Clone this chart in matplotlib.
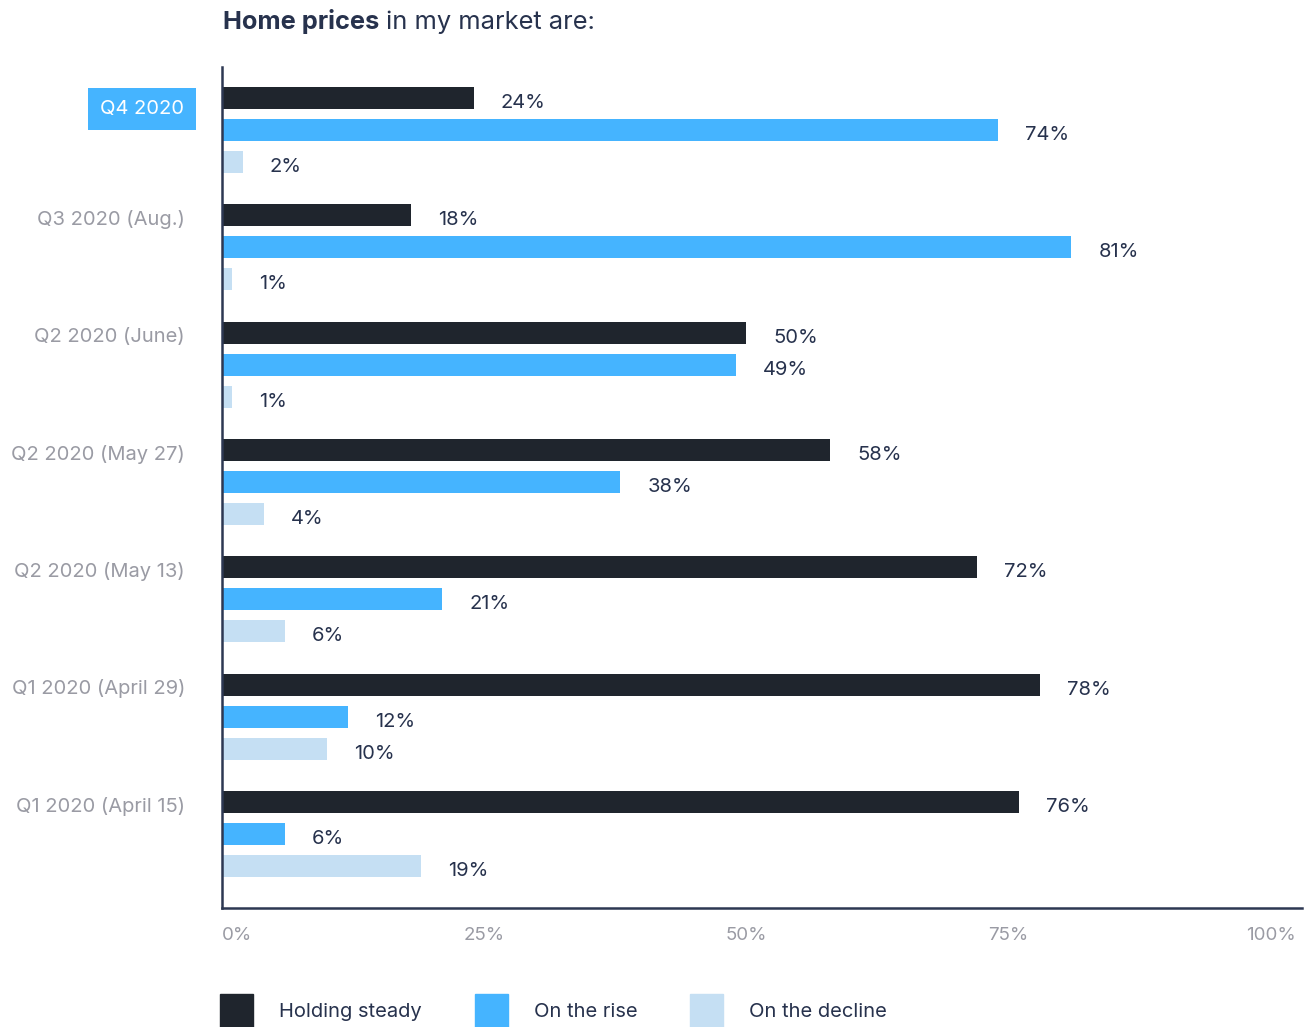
import numpy as np
import matplotlib
matplotlib.use('Agg')
import matplotlib.pyplot as plt
from matplotlib.patches import Patch

# survey periods, newest first
periods = ['Q4 2020', 'Q3 2020 (Aug.)', 'Q2 2020 (June)', 'Q2 2020 (May 27)',
           'Q2 2020 (May 13)', 'Q1 2020 (April 29)', 'Q1 2020 (April 15)']
holding = [24, 18, 50, 58, 72, 78, 76]
rise = [74, 81, 49, 38, 21, 12, 6]
decline = [2, 1, 1, 4, 6, 10, 19]
series_names = ['Holding steady', 'On the rise', 'On the decline']
x_ticks = [0, 25, 50, 75, 100]

DARK = '#1f252d'
BLUE = '#45b4ff'
LIGHT = '#c5dff3'
NAVY = '#27324d'
GREY = '#9a9ba4'

plt.rcParams['font.family'] = ['Inter', 'DejaVu Sans']

W, H = 1306, 1027
fig = plt.figure(figsize=(W / 100, H / 100), dpi=100)
ax = fig.add_axes([222 / W, 1 - 908 / H, 1080 / W, 841 / H])

group_gap = 3.667
base = np.arange(len(periods)) * group_gap
colors = [DARK, BLUE, LIGHT]

for k, vals in enumerate([holding, rise, decline]):
    ypos = base + k
    ax.barh(ypos, vals, height=0.69, color=colors[k], label=series_names[k])
    for y, v in zip(ypos, vals):
        ax.annotate(f'{v}%', xy=(v, y), xytext=(27, -5), textcoords='offset pixels',
                    ha='left', va='center', fontsize=14.5, color=NAVY,
                    annotation_clip=False)

# period labels; the latest one gets a highlight box
for i, (label, y) in enumerate(zip(periods, base)):
    if i == 0:
        ax.annotate(label, xy=(0, y), xytext=(-38, -11), textcoords='offset pixels',
                    ha='right', va='center', fontsize=14.5, color='white',
                    bbox=dict(boxstyle='square,pad=0.58', fc=BLUE, ec='none'),
                    annotation_clip=False)
    else:
        ax.annotate(label, xy=(0, y), xytext=(-37, -4), textcoords='offset pixels',
                    ha='right', va='center', fontsize=14.5, color=GREY,
                    annotation_clip=False)

ax.set_xlim(0, 103)
ax.set_ylim(base[-1] + 2 + 1.31, -0.969)
ax.set_yticks([])
ax.set_xticks(x_ticks)
ax.set_xticklabels([f'{t}%' for t in x_ticks])
ax.tick_params(axis='x', length=0, pad=14, labelsize=13.5, labelcolor=GREY)
ax.get_xticklabels()[0].set_horizontalalignment('left')

for side in ['top', 'right']:
    ax.spines[side].set_visible(False)
for side in ['left', 'bottom']:
    ax.spines[side].set_color('#2d3852')
    ax.spines[side].set_linewidth(1.8)

# title with bold lead-in
t1 = fig.text(223 / W, 1 - 29 / H, 'Home prices', fontsize=18.3, fontweight='bold',
              color=NAVY, va='baseline')
ax.annotate(' in my market are:', xy=(1, 0), xycoords=t1, ha='left', va='bottom',
            fontsize=18.3, color=NAVY, annotation_clip=False)

handles = [Patch(color=c) for c in colors]
fig.legend(handles, series_names, loc='lower left', bbox_to_anchor=(220 / W, 0),
           ncol=3, frameon=False, fontsize=14.5, handlelength=1.65, handleheight=2.15,
           handletextpad=1.3, columnspacing=2.6, borderpad=0, borderaxespad=0,
           labelcolor=NAVY)

fig.savefig('out.png', dpi=100)
